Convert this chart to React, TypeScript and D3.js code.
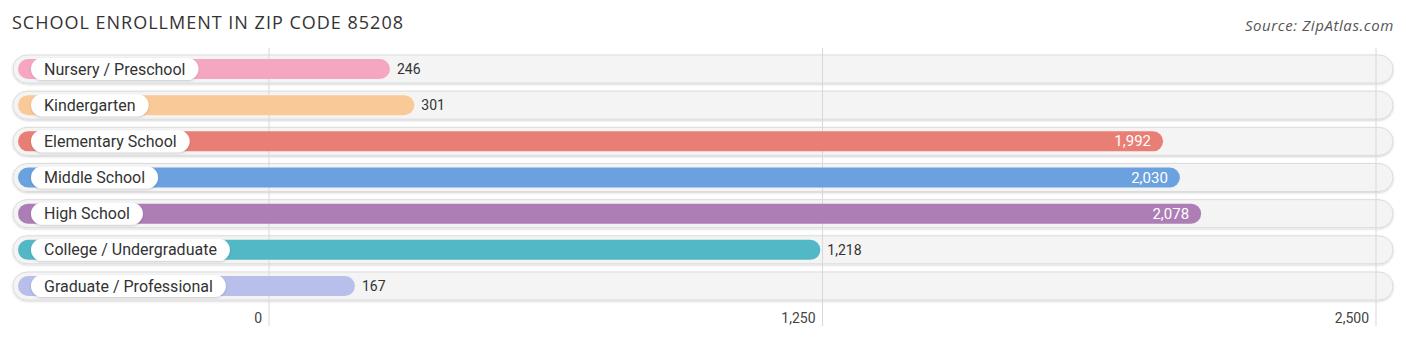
import React, { useEffect, useRef } from "react";
import * as d3 from "d3";

const categories = [
  "Nursery / Preschool",
  "Kindergarten",
  "Elementary School",
  "Middle School",
  "High School",
  "College / Undergraduate",
  "Graduate / Professional",
];
const values = [246, 301, 1992, 2030, 2078, 1218, 167];
const colors = ["#f5a7c1", "#f9ca98", "#e97e75", "#6aa1de", "#ad7eb5", "#53b8c6", "#b7bfea"];
const tickValues = [0, 1250, 2500];
const title = "SCHOOL ENROLLMENT IN ZIP CODE 85208";
const source = "Source: ZipAtlas.com";

const W = 1406;
const H = 342;

export default function App() {
  const ref = useRef<SVGSVGElement>(null);
  useEffect(() => {
    const svg = d3.select(ref.current);
    svg.selectAll("*").remove();

    const x = d3.scaleLinear().domain([0, 2500]).range([269, 1376]);
    const rowH = 36.17;
    const cy = (i: number) => 69 + i * rowH;

    const defs = svg.append("defs");
    const f = defs.append("filter").attr("id", "sh").attr("x", "-5%").attr("y", "-30%").attr("width", "110%").attr("height", "160%");
    f.append("feDropShadow").attr("dx", 0).attr("dy", 1).attr("stdDeviation", 1.2).attr("flood-color", "#000").attr("flood-opacity", 0.18);

    svg.append("text").attr("x", 12).attr("y", 29).attr("font-family", "Open Sans, sans-serif").attr("font-size", 18)
      .attr("letter-spacing", 1).attr("fill", "#333").text(title);
    svg.append("text").attr("x", 1394).attr("y", 31).attr("text-anchor", "end").attr("font-family", "Open Sans, sans-serif")
      .attr("font-style", "italic").attr("font-size", 15).attr("letter-spacing", 0.6).attr("fill", "#555").text(source);

    // tracks
    categories.forEach((c, i) => {
      svg.append("rect").attr("x", 13).attr("y", cy(i) - 14).attr("width", 1380).attr("height", 28).attr("rx", 14)
        .attr("fill", "#f4f4f4").attr("stroke", "#dcdcdc").attr("stroke-width", 1).attr("filter", "url(#sh)");
    });

    // gridlines
    tickValues.forEach((t) => {
      svg.append("line").attr("x1", x(t)).attr("x2", x(t)).attr("y1", 48).attr("y2", 326).attr("stroke", "#d8d8d8").attr("stroke-width", 1);
      svg.append("text").attr("x", x(t) - 7).attr("y", 323).attr("text-anchor", "end").attr("font-family", "Roboto, sans-serif").attr("font-size", 14).attr("fill", "#444")
        .text(d3.format(",")(t));
    });

    categories.forEach((c, i) => {
      const v = values[i];
      const end = x(v) + 12;
      const yc = cy(i);
      svg.append("rect").attr("x", 18).attr("y", yc - 10).attr("width", end - 18).attr("height", 20).attr("rx", 10).attr("fill", colors[i]);
      const g = svg.append("g");
      const pill = g.append("rect").attr("x", 31).attr("y", yc - 11).attr("height", 22).attr("rx", 11).attr("fill", "#fff").attr("filter", "url(#sh)");
      const t = g.append("text").attr("x", 44).attr("y", yc + 5.5).attr("font-family", "Roboto, sans-serif").attr("font-size", 16).attr("fill", "#333").text(c);
      const tw = (t.node() as SVGTextElement).getComputedTextLength();
      pill.attr("width", tw + 26);
      const inside = v > 1500;
      svg.append("text").attr("x", inside ? end - 12 : end + 7).attr("y", yc + 5).attr("text-anchor", inside ? "end" : "start")
        .attr("font-family", "Roboto, sans-serif").attr("font-size", inside ? 15 : 14).attr("fill", inside ? "#fff" : "#333").text(d3.format(",")(v));
    });
  }, []);
  return <svg ref={ref} width={W} height={H} style={{ display: "block", position: "absolute", left: 0, top: 0 }} />;
}
